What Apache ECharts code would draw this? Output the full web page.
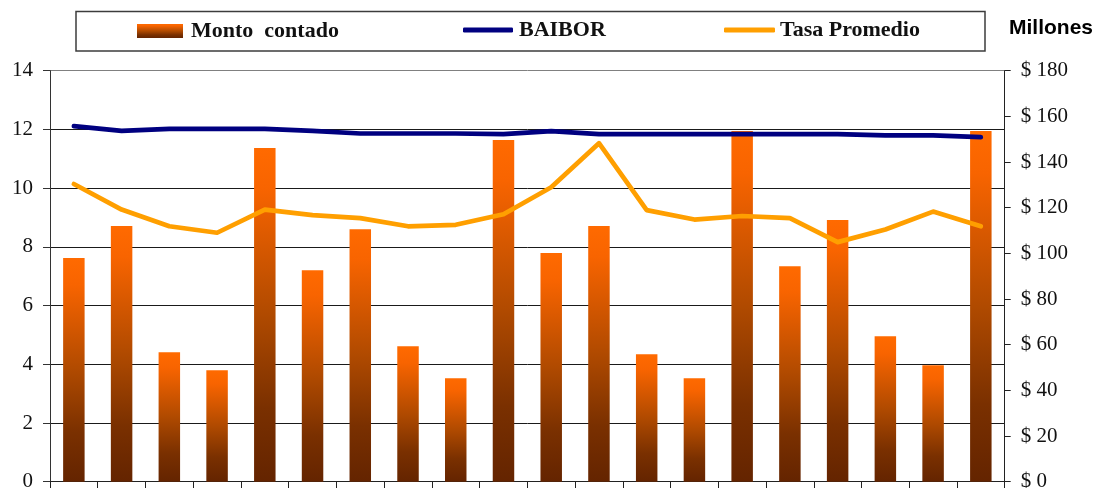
<!DOCTYPE html>
<html>
<head>
<meta charset="utf-8">
<script src="https://cdn.jsdelivr.net/npm/echarts@6/dist/echarts.min.js"></script>
<style>
  html, body { margin: 0; padding: 0; background: #fff; }
  #chart { width: 1099px; height: 488px; }
</style>
</head>
<body>
<div id="chart"></div>
<script>
// Period index along the horizontal axis (labels are not printed)
const categories = ['1','2','3','4','5','6','7','8','9','10','11','12','13','14','15','16','17','18','19','20'];

// Amount traded, millions of $ (right axis)
const montoContado = [98, 112, 56.7, 48.8, 146.1, 92.6, 110.6, 59.3, 45.3, 149.7,
                      100.2, 112, 55.8, 45.3, 153.6, 94.4, 114.6, 63.7, 51, 153.6];

// Rates, % (left axis)
const baibor = [12.11, 11.95, 12.02, 12.02, 12.02, 11.95, 11.86, 11.86, 11.86, 11.84,
                11.94, 11.84, 11.84, 11.84, 11.84, 11.84, 11.84, 11.80, 11.80, 11.74];
const tasaPromedio = [10.14, 9.27, 8.7, 8.48, 9.27, 9.08, 8.98, 8.7, 8.75, 9.11,
                      10.03, 11.53, 9.25, 8.93, 9.05, 8.98, 8.16, 8.59, 9.2, 8.7];

// Axis ticks
const leftTicks = { min: 0, max: 14, interval: 2 };
const rightTicks = { min: 0, max: 180, interval: 20 };

const serif = '"Liberation Serif", "DejaVu Serif", serif';

const barGradient = new echarts.graphic.LinearGradient(0, 0, 0, 1, [
  { offset: 0, color: '#FF6A00' },
  { offset: 0.12, color: '#F86400' },
  { offset: 0.5, color: '#B04A00' },
  { offset: 0.78, color: '#7A3000' },
  { offset: 1, color: '#642400' }
]);

const chart = echarts.init(document.getElementById('chart'), null, { renderer: 'canvas' });

const legendText = {
  fontFamily: serif,
  fontWeight: 'bold',
  fontSize: 22,
  color: '#111'
};

chart.setOption({
  animation: false,
  backgroundColor: '#fff',
  title: {
    text: 'Millones',
    left: 1009,
    top: 18,
    padding: 0,
    textStyle: {
      fontFamily: '"Liberation Sans", Arial, sans-serif',
      fontWeight: 'bold',
      fontSize: 21,
      color: '#000'
    }
  },
  graphic: [{
    type: 'rect',
    shape: { x: 76, y: 11.5, width: 909, height: 39.5 },
    style: { fill: 'none', stroke: '#3c3c3c', lineWidth: 1.5 },
    silent: true
  }],
  legend: [
    {
      data: ['Monto  contado'],
      left: 137, top: 20, padding: 0,
      itemWidth: 46, itemHeight: 14,
      icon: 'rect',
      selectedMode: false,
      textStyle: Object.assign({ padding: [0, 0, 0, 3] }, legendText)
    },
    {
      data: ['BAIBOR'],
      left: 463, top: 19, padding: 0,
      itemWidth: 50, itemHeight: 5,
      icon: 'roundRect',
      selectedMode: false,
      textStyle: Object.assign({ padding: [0, 0, 0, 1] }, legendText)
    },
    {
      data: ['Tasa Promedio'],
      left: 724, top: 19, padding: 0,
      itemWidth: 51, itemHeight: 5,
      icon: 'roundRect',
      selectedMode: false,
      textStyle: Object.assign({ padding: [0, 0, 0, 0] }, legendText)
    }
  ],
  grid: {
    left: 50, right: 94.3, top: 70.7, bottom: 6.3,
    containLabel: false,
    outerBoundsMode: 'none'
  },
  xAxis: {
    type: 'category',
    data: categories,
    boundaryGap: true,
    axisLine: { show: true, lineStyle: { color: '#222', width: 1 } },
    axisTick: { show: true, inside: false, length: 7, lineStyle: { color: '#222' } },
    axisLabel: { show: false },
    splitLine: { show: false }
  },
  yAxis: [
    {
      type: 'value',
      position: 'left',
      min: leftTicks.min, max: leftTicks.max, interval: leftTicks.interval,
      axisLine: { show: true, lineStyle: { color: '#333', width: 1 } },
      axisTick: { show: true, length: 7, lineStyle: { color: '#333' } },
      axisLabel: {
        margin: 17,
        fontFamily: serif, fontSize: 21, color: '#111'
      },
      splitLine: {
        show: true,
        lineStyle: {
          color: ['#1a1a1a', '#1a1a1a', '#1a1a1a', '#1a1a1a', '#1a1a1a', '#1a1a1a', '#1a1a1a', '#808080'],
          width: 1
        }
      }
    },
    {
      type: 'value',
      position: 'right',
      min: rightTicks.min, max: rightTicks.max, interval: rightTicks.interval,
      axisLine: { show: true, lineStyle: { color: '#222', width: 1 } },
      axisTick: { show: true, length: 6, lineStyle: { color: '#222' } },
      axisLabel: {
        margin: 16,
        fontFamily: serif, fontSize: 21, color: '#111',
        formatter: v => '$ ' + v
      },
      splitLine: { show: false }
    }
  ],
  series: [
    {
      name: 'Monto  contado',
      type: 'bar',
      yAxisIndex: 1,
      data: montoContado,
      barWidth: '45%',
      itemStyle: { color: barGradient },
      z: 2
    },
    {
      name: 'BAIBOR',
      type: 'line',
      yAxisIndex: 0,
      data: baibor,
      symbol: 'none',
      lineStyle: { color: '#000080', width: 4.7, cap: 'round', join: 'round' },
      itemStyle: { color: '#000080' },
      z: 3
    },
    {
      name: 'Tasa Promedio',
      type: 'line',
      yAxisIndex: 0,
      data: tasaPromedio,
      symbol: 'none',
      lineStyle: { color: '#FF9F00', width: 4.7, cap: 'round', join: 'round' },
      itemStyle: { color: '#FF9F00' },
      z: 4
    }
  ]
});
</script>
</body>
</html>
